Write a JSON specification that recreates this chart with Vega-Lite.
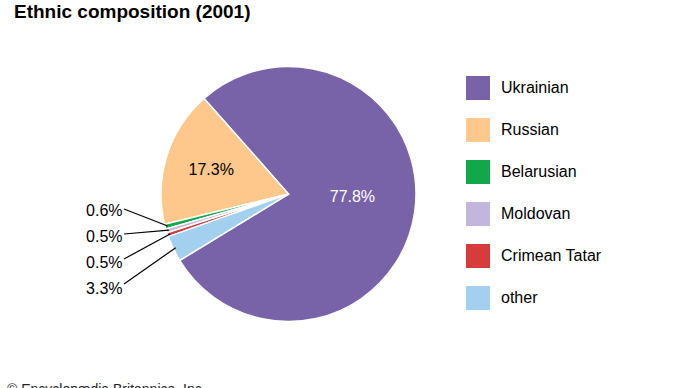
{
  "$schema": "https://vega.github.io/schema/vega-lite/v6.json",
  "width": 577,
  "height": 328,
  "autosize": {"type": "none"},
  "padding": {"left": 0, "top": 30, "right": 113, "bottom": 30},
  "background": "white",
  "title": {
    "text": "Ethnic composition (2001)",
    "anchor": "start",
    "fontSize": 19,
    "fontWeight": "bold",
    "font": "Liberation Sans",
    "color": "#000000",
    "dx": 14,
    "offset": 8
  },
  "config": {"view": {"stroke": null}, "font": "Liberation Sans"},
  "data": {
    "values": [
      {"group": "Ukrainian", "pct": 77.8, "k": 1},
      {"group": "Russian", "pct": 17.3, "k": 2},
      {"group": "Belarusian", "pct": 0.6, "k": 3},
      {"group": "Moldovan", "pct": 0.5, "k": 4},
      {"group": "Crimean Tatar", "pct": 0.5, "k": 5},
      {"group": "other", "pct": 3.3, "k": 6}
    ]
  },
  "layer": [
    {
      "mark": {"type": "arc", "radius": 127.5, "stroke": "white", "strokeWidth": 1.5},
      "encoding": {
        "theta": {"field": "pct", "type": "quantitative", "stack": true, "scale": {"range": [4.1644, -2.1188]}},
        "order": {"field": "k", "type": "quantitative"},
        "color": {
          "field": "group",
          "type": "nominal",
          "scale": {
            "domain": ["Ukrainian", "Russian", "Belarusian", "Moldovan", "Crimean Tatar", "other"],
            "range": ["#7862a8", "#fec78b", "#11a84c", "#c3b6dc", "#d63c3c", "#a2d0ee"]
          },
          "legend": {
            "orient": "none",
            "legendX": 466,
            "legendY": 46,
            "title": null,
            "symbolType": "square",
            "symbolSize": 576,
            "symbolStrokeWidth": 0,
            "symbolOpacity": 1,
            "labelFontSize": 16,
            "labelFont": "Liberation Sans",
            "labelColor": "#000000",
            "labelOffset": 11,
            "rowPadding": 18,
            "padding": 0
          }
        }
      }
    },
    {
      "transform": [
        {"stack": "pct", "groupby": [], "sort": [{"field": "k", "order": "ascending"}], "as": ["c0", "c1"]},
        {"calculate": "4.1644 - PI * (datum.c0 + datum.c1) / 100", "as": "ang"},
        {"filter": "datum.k >= 3"},
        {"calculate": "125 * sin(datum.ang)", "as": "sx"},
        {"calculate": "125 * cos(datum.ang)", "as": "sy"},
        {"calculate": "-164.5", "as": "lx"},
        {"calculate": "-(15 + 25 * (datum.k - 3))", "as": "ly"}
      ],
      "mark": {"type": "rule", "color": "#000000", "strokeWidth": 1.2},
      "encoding": {
        "x": {"field": "lx", "type": "quantitative", "scale": {"domain": [-288.5, 288.5], "nice": false, "zero": false}, "axis": null},
        "y": {"field": "ly", "type": "quantitative", "scale": {"domain": [-164, 164], "nice": false, "zero": false}, "axis": null},
        "x2": {"field": "sx"},
        "y2": {"field": "sy"}
      }
    },
    {
      "transform": [
        {"filter": "datum.k >= 3"},
        {"calculate": "-166", "as": "tx"},
        {"calculate": "-(17 + 26 * (datum.k - 3))", "as": "ty"},
        {"calculate": "format(datum.pct, '.1f') + '%'", "as": "label"}
      ],
      "mark": {"type": "text", "align": "right", "baseline": "middle", "fontSize": 16, "color": "#000000"},
      "encoding": {
        "x": {"field": "tx", "type": "quantitative"},
        "y": {"field": "ty", "type": "quantitative"},
        "text": {"field": "label"}
      }
    },
    {
      "transform": [
        {"stack": "pct", "groupby": [], "sort": [{"field": "k", "order": "ascending"}], "as": ["c0", "c1"]},
        {"calculate": "4.1644 - PI * (datum.c0 + datum.c1) / 100", "as": "ang"},
        {"filter": "datum.k <= 2"},
        {"calculate": "datum.k == 1 ? 64 : 81", "as": "r"},
        {"calculate": "datum.k == 1 ? datum.ang - 0.1 : datum.ang", "as": "la"},
        {"calculate": "datum.r * sin(datum.la)", "as": "tx"},
        {"calculate": "datum.r * cos(datum.la)", "as": "ty"},
        {"calculate": "format(datum.pct, '.1f') + '%'", "as": "label"}
      ],
      "mark": {"type": "text", "align": "center", "baseline": "middle", "fontSize": 16},
      "encoding": {
        "x": {"field": "tx", "type": "quantitative"},
        "y": {"field": "ty", "type": "quantitative"},
        "text": {"field": "label"},
        "color": {"condition": {"test": "datum.k == 1", "value": "#ffffff"}, "value": "#000000"}
      }
    },
    {
      "data": {"values": [{"note": "© Encyclopædia Britannica, Inc."}]},
      "mark": {"type": "text", "align": "left", "baseline": "top", "fontSize": 14, "color": "#222222"},
      "encoding": {
        "x": {"datum": -281.5, "type": "quantitative"},
        "y": {"datum": -189, "type": "quantitative"},
        "text": {"field": "note"}
      }
    }
  ]
}
